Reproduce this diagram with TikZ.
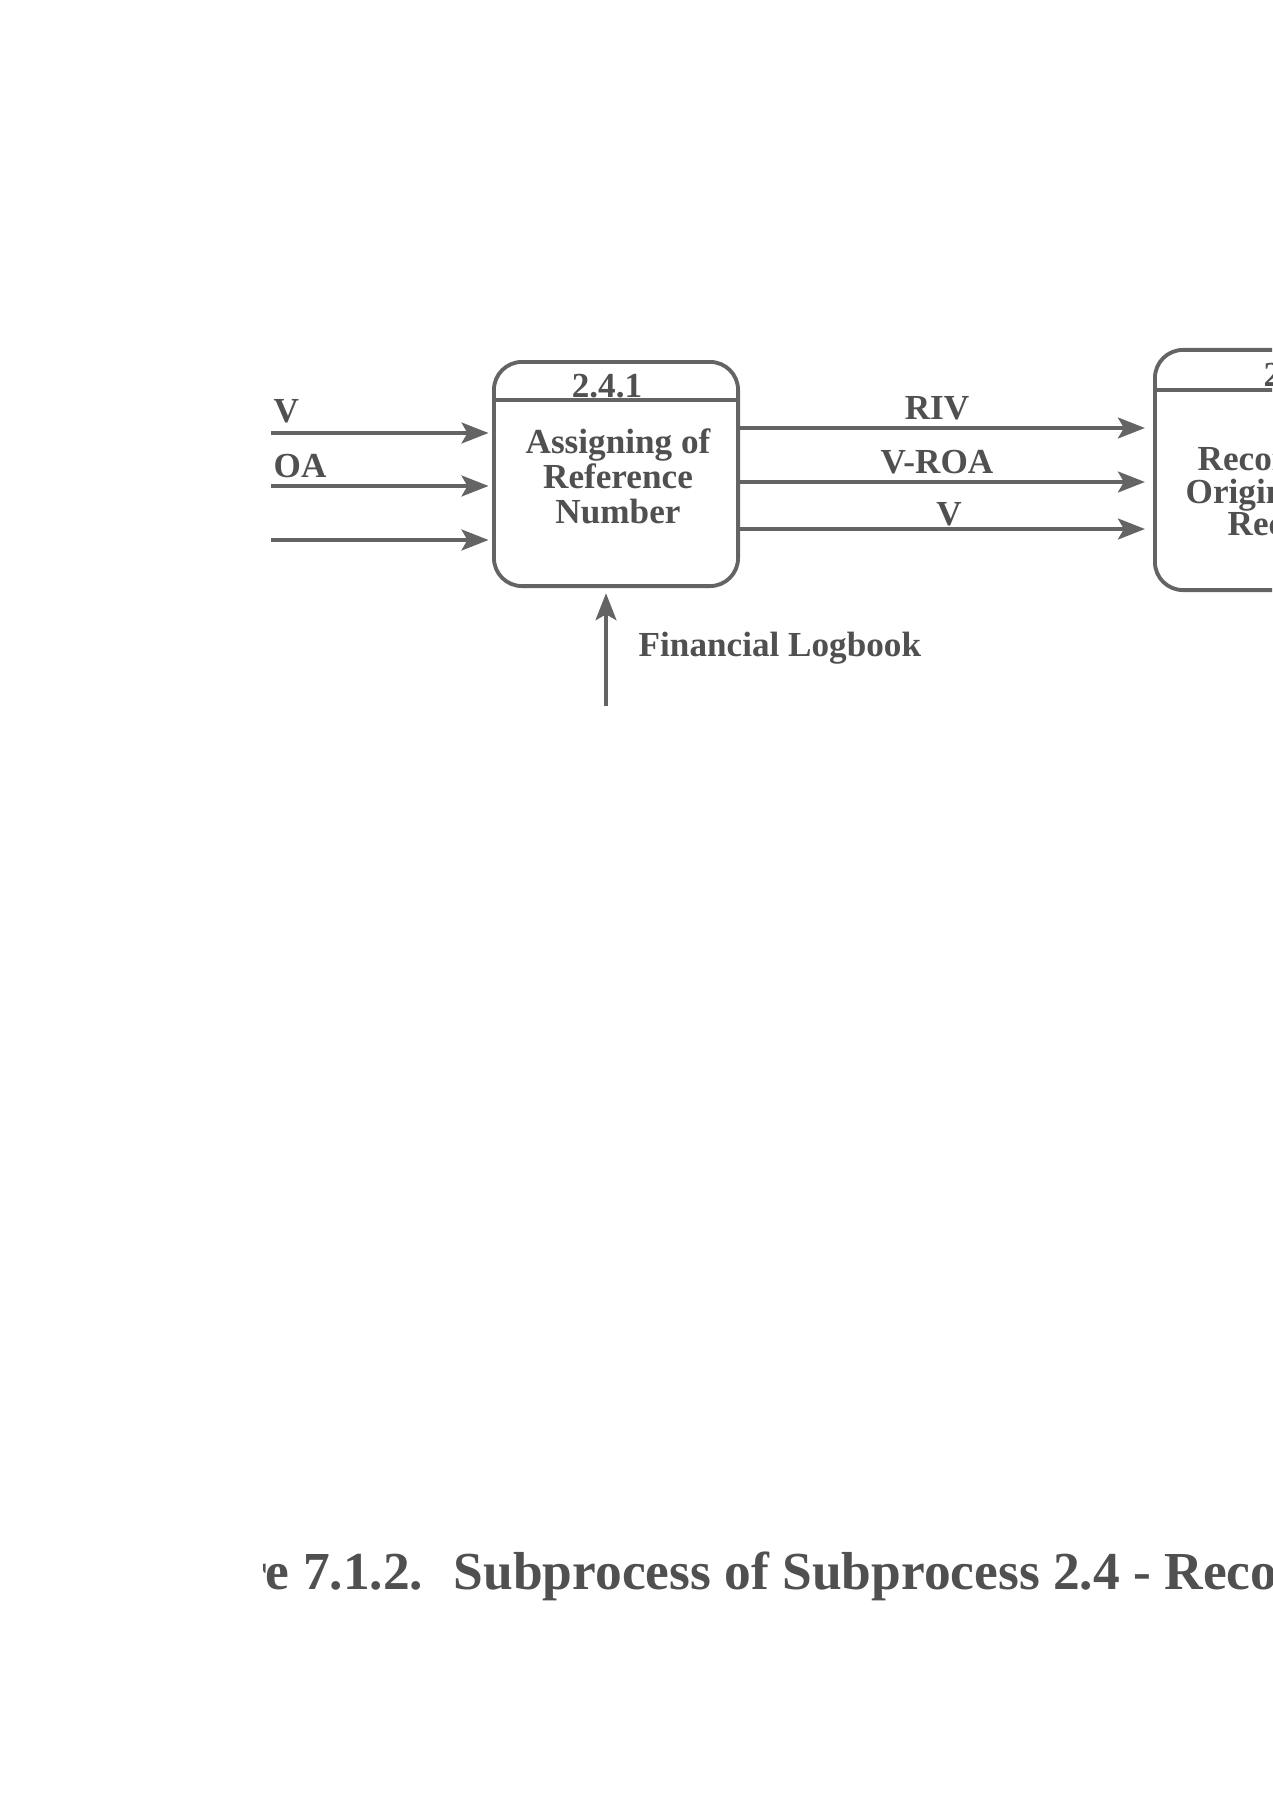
\documentclass[tikz,border=0pt]{standalone}
\usepackage{fontspec}
\setmainfont{Liberation Serif}
\usetikzlibrary{arrows.meta}
\definecolor{linegray}{RGB}{100,100,100}
\definecolor{textgray}{RGB}{80,80,80}
\begin{document}
\begin{tikzpicture}[x=0.01cm,y=-0.01cm,
  ink/.style={draw=linegray, line width=1.1pt},
  proc/.style={ink, rounded corners=0.28cm, minimum width=2.44cm, minimum height=2.24cm, inner sep=0pt},
  flow/.style={draw=linegray, line width=0.9pt, -{Stealth[length=2.7mm,width=2.1mm,inset=0.6mm]}},
  lbl/.style={text=textgray, font=\bfseries\fontsize{10}{9.95}\selectfont, inner sep=0pt},
  captxt/.style={text=textgray, font=\bfseries\fontsize{15.2}{17}\selectfont, inner sep=0pt}]
\useasboundingbox (0,0) rectangle (1272,1800);
\clip (0,0) rectangle (1272,1800);
\fill[white] (0,0) rectangle (1272,1800);

% process boxes
\node[proc] (A) at (616,474) {};
\node[proc, minimum height=2.4cm] (B) at (1277,470) {};
\coordinate (hA) at (0,400);
\coordinate (hB) at (0,390);
\draw[ink] (A.west |- hA) -- (A.east |- hA);
\draw[ink] (B.west |- hB) -- (B.east |- hB);

\node[lbl, anchor=base] (An) at (607,397) {2.4.1};
\node[lbl, align=center] (At) at (618,476) {Assigning of\\Reference\\Number};

\node[lbl, anchor=base west] (Bn) at (1263,386) {2.4.2};
\node[lbl, anchor=west] (Bt1) at (1197,462) {Recording of};
\node[lbl, anchor=west] (Bt2) at (1185,495) {Original};
\node[lbl, anchor=west] (Bt3) at (1227,527) {Receipt};

% incoming flows
\coordinate (i1) at (271,433);
\coordinate (i2) at (271,486);
\coordinate (i3) at (271,540);
\draw[flow, shorten >=1pt] (i1) -- (i1 -| A.west);
\draw[flow, shorten >=1pt] (i2) -- (i2 -| A.west);
\draw[flow, shorten >=1pt] (i3) -- (i3 -| A.west);
\node[lbl, anchor=west] (lV) at (273,411) {V};
\node[lbl, anchor=west] (lOA) at (273,466) {OA};

% outgoing flows
\coordinate (o1) at (0,428);
\coordinate (o2) at (0,482);
\coordinate (o3) at (0,529);
\draw[flow, shorten >=2.3pt] (o1 -| A.east) -- (o1 -| B.west);
\draw[flow, shorten >=2.3pt] (o2 -| A.east) -- (o2 -| B.west);
\draw[flow, shorten >=2.3pt] (o3 -| A.east) -- (o3 -| B.west);
\node[lbl] (lRIV) at (937,408) {RIV};
\node[lbl] (lVROA) at (937,462) {V-ROA};
\node[lbl] (lV2) at (949,514) {V};

% financial logbook
\coordinate (f0) at (606,706);
\draw[flow, shorten >=1.5pt] (f0) -- (f0 |- A.south);
\node[lbl, anchor=west] (lFin) at (638,648) {Financial Logbook};

% caption (left part cut off as in the scan)
\begin{scope}
\clip (263,1500) rectangle (1272,1650);
\node[captxt, anchor=base east] (c1) at (424,1589) {Figure 7.1.2.};
\node[captxt, anchor=base west] (c2) at (453,1589) {Subprocess of Subprocess 2.4 - Recording of Original Receipts};
\end{scope}
\end{tikzpicture}
\end{document}
